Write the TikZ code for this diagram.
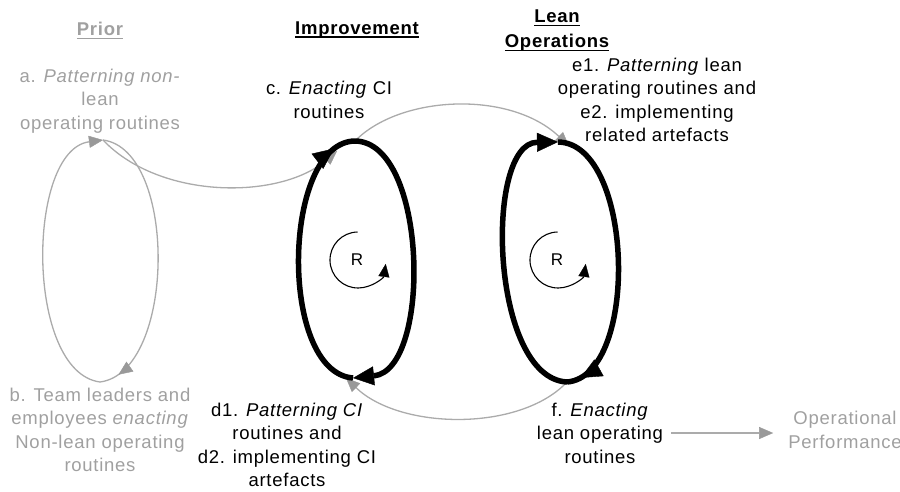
\documentclass[tikz,border=0pt]{standalone}
\usepackage{fontspec}
\setmainfont{Liberation Sans}[LetterSpace=4]
\usetikzlibrary{arrows.meta,decorations.markings}
\definecolor{fadetext}{HTML}{A0A0A0}
\definecolor{fadeline}{HTML}{ABABAB}
\definecolor{fadetip}{HTML}{999999}
% heading text with a thick rule beneath it
\newcommand\hdrul[1]{\setbox0\hbox{#1}\rlap{\usebox0}\raisebox{-3.5pt}{\rule{\wd0}{1.7pt}}}
\begin{document}
\begin{tikzpicture}[x=1pt,y=-1pt,
  txt/.style={inner sep=0pt, align=center, font=\fontsize{18.5}{23.5}\selectfont},
  faded/.style={txt, text=fadetext},
  hdr/.style={inner sep=0pt, align=center, font=\fontsize{18.5}{25}\selectfont\bfseries},
  greyarc/.style={draw=fadeline, line width=1.3pt,
    -{Triangle[length=14pt,width=12pt,color=fadetip,line width=0.4pt]}},
  greyloop/.style={draw=fadeline, line width=1.3pt},
  greymid/.style={postaction={decorate}, decoration={markings,
    mark=at position #1 with {\arrow{Triangle[length=14pt,width=12pt,color=fadetip,line width=0.4pt]}}}},
  blackloop/.style={draw=black, line width=5.5pt},
  blacktip/.style={-{Triangle[length=21pt,width=19pt,line width=0.4pt]}},
  blackmid/.style={postaction={decorate}, decoration={markings,
    mark=at position #1 with {\arrow{Triangle[length=21pt,width=19pt,line width=0.4pt]}}}},
  rarc/.style={draw=black, line width=1.1pt, -{Triangle[length=13pt,width=11pt,line width=0.3pt]}},
  rlabel/.style={inner sep=0pt, font=\fontsize{17}{18}\selectfont}
]
\useasboundingbox (0,0) rectangle (900,491);

% column headings
\node[hdr, text=fadetext] (hprior) at (100,31) {\hdrul{Prior}};
\node[hdr] (himpr) at (357,30) {\hdrul{Improvement}};
\node[hdr] (hlean) at (557,31) {\hdrul{Lean}\\\hdrul{Operations}};

% labels
\node[faded] (a) at (100,101) {a. \textit{Patterning non-}\\lean\\operating routines};
\node[faded] (b) at (100,430) {b. Team leaders and\\employees \textit{enacting}\\Non-lean operating\\routines};
\node[txt] (c) at (329,100) {c. \textit{Enacting} CI\\routines};
\node[txt] (d) at (287,445) {d1. \textit{Patterning CI}\\routines and\\d2. implementing CI\\artefacts};
\node[txt] (e) at (657,100) {e1. \textit{Patterning} lean\\operating routines and\\e2. implementing\\related artefacts};
\node[txt] (f) at (600,433) {f. \textit{Enacting}\\lean operating\\routines};
\node[faded] (op) at (845,430) {Operational\\Performance};

% loop end points
\coordinate (aT) at (103,140);
\coordinate (aB) at (100,382);
\coordinate (cT) at (355,141);
\coordinate (cIn) at (337,151);
\coordinate (dB) at (353,378);
\coordinate (dIn) at (346,378);
\coordinate (eT) at (558,142);
\coordinate (eIn) at (569,146);
\coordinate (fB) at (567,382);

% grey links
\draw[greyloop, greymid=0.93] (aT) .. controls (178,150) and (176,372) .. (aB);
\draw[greyarc] (aB) .. controls (25,372) and (26,150) .. (aT);
\draw[greyarc] (aT) .. controls (160,200) and (280,200) .. (cIn);
\draw[greyarc] (cT) .. controls (400,95) and (510,90) .. (eIn);
\draw[greyarc] (fB) .. controls (520,432) and (400,430) .. (dIn);
\draw[greyarc, shorten <=8pt, shorten >=15pt] (f.east) -- (f.east -| op.west);

% improvement loop
\draw[blackloop, blacktip] (cT) .. controls (428,142) and (432,370) .. (dB);
\draw[blackloop, blackmid=0.92] (dB) .. controls (278,372) and (282,142) .. (cT);

% lean operations loop
\draw[blackloop, blackmid=0.95] (eT) .. controls (634,143) and (640,376) .. (fB);
\draw[blackloop, blacktip] (fB) .. controls (490,378) and (484,143) .. (eT);

% reinforcing markers
\node[rlabel] (r1) at (357,260) {R};
\draw[rarc] ([shift={(0.5pt,28pt)}]r1.center) arc[start angle=91, end angle=352, radius=28pt];
\node[rlabel] (r2) at (557,260) {R};
\draw[rarc] ([shift={(0.5pt,28pt)}]r2.center) arc[start angle=91, end angle=352, radius=28pt];
\end{tikzpicture}
\end{document}
